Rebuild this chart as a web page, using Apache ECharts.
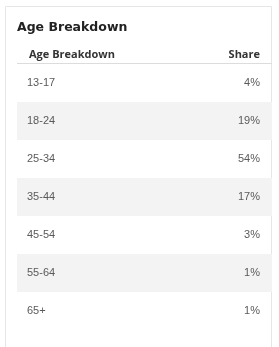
<!DOCTYPE html>
<html>
<head>
<meta charset="utf-8">
<script src="https://cdn.jsdelivr.net/npm/echarts@6/dist/echarts.min.js"></script>
<style>
  html, body { margin: 0; padding: 0; background: #fff; }
  #chart { width: 279px; height: 347px; }
</style>
</head>
<body>
<div id="chart"></div>
<script>
const title = 'Age Breakdown'
const columnLabels = ['Age Breakdown', 'Share']
const ageGroups = ['13-17', '18-24', '25-34', '35-44', '45-54', '55-64', '65+']
const shares = [4, 19, 54, 17, 3, 1, 1]

const chart = echarts.init(document.getElementById('chart'), null, { renderer: 'canvas' })

const GRID_LEFT = 17
const GRID_RIGHT = 272
const TEXT_FONT = '"Liberation Sans", Arial, sans-serif'

chart.setOption({
  backgroundColor: '#fff',
  animation: false,
  title: {
    text: title,
    left: 17,
    top: 21,
    padding: 0,
    textStyle: { fontFamily: '"DejaVu Sans", sans-serif', fontSize: 12.5, fontWeight: 'bold', color: '#222' },
  },
  grid: { left: GRID_LEFT, right: 279 - GRID_RIGHT, top: 64, bottom: 17 },
  xAxis: { type: 'value', min: 0, max: 1, show: false },
  yAxis: { type: 'category', data: ageGroups, inverse: true, show: false },
  graphic: [
    {
      type: 'rect',
      shape: { x: 5.5, y: 6.5, width: 266, height: 360 },
      style: { fill: 'none', stroke: '#e6e6e6', lineWidth: 1 },
      z: 0,
    },
    {
      type: 'text',
      left: 29,
      top: 49,
      style: { text: columnLabels[0], font: 'bold 11px "Open Sans", sans-serif', fill: '#333' },
    },
    {
      type: 'text',
      right: 279 - 260,
      top: 49,
      style: { text: columnLabels[1], font: 'bold 11px "Open Sans", sans-serif', fill: '#333', align: 'right' },
    },
    {
      type: 'line',
      shape: { x1: GRID_LEFT, y1: 63.5, x2: GRID_RIGHT, y2: 63.5 },
      style: { stroke: '#dcdcdc', lineWidth: 1 },
    },
  ],
  series: [{
    type: 'custom',
    data: ageGroups.map((g, i) => [i, shares[i]]),
    renderItem: (params, api) => {
      const idx = api.value(0)
      const [, cy] = api.coord([0, idx])
      const band = api.size([0, 1])[1]
      const [x0] = api.coord([0, idx])
      const [x1] = api.coord([1, idx])
      const children = []
      if (idx % 2 === 1) {
        children.push({
          type: 'rect',
          shape: { x: x0, y: cy - band / 2, width: x1 - x0, height: band },
          style: { fill: '#f3f3f3' },
        })
      }
      children.push({
        type: 'text',
        style: { text: ageGroups[idx], x: x0 + 10, y: cy, verticalAlign: 'middle', font: '11px ' + TEXT_FONT, fill: '#5a5a5a' },
      })
      children.push({
        type: 'text',
        style: { text: api.value(1) + '%', x: x1 - 12, y: cy, align: 'right', verticalAlign: 'middle', font: '11px ' + TEXT_FONT, fill: '#5a5a5a' },
      })
      return { type: 'group', children }
    },
  }],
})
</script>
</body>
</html>
